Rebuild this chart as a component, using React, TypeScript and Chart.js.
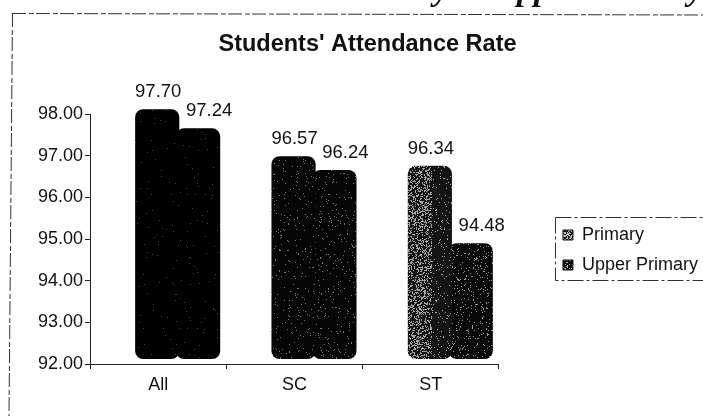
import React, { useEffect, useRef } from "react";
import { Chart, registerables } from "chart.js";

Chart.register(...registerables);

const categories = ["All", "SC", "ST"];
const primaryValues = [97.7, 96.57, 96.34];
const upperPrimaryValues = [97.24, 96.24, 94.48];
const yTicks = [92, 93, 94, 95, 96, 97, 98];
const chartTitle = "Students' Attendance Rate";
const seriesNames = ["Primary", "Upper Primary"];
const clippedHeader = "Primary & Upper Primary";

// Scanned-print texture: a speckle whose density is allowed to vary across x.
function speckle(base: number, light: number, density: (x: number) => number, seed: number) {
  const w = 703;
  const h = 416;
  const c = document.createElement("canvas");
  c.width = w;
  c.height = h;
  const g = c.getContext("2d")!;
  const img = g.createImageData(w, h);
  let s = seed;
  for (let y = 0; y < h; y++) {
    for (let x = 0; x < w; x++) {
      s = (s * 1103515245 + 12345) & 0x7fffffff;
      const v = ((s >> 16) & 255) / 255 < density(x) ? light : base;
      const i = (y * w + x) * 4;
      img.data[i] = v;
      img.data[i + 1] = v;
      img.data[i + 2] = v;
      img.data[i + 3] = 255;
    }
  }
  g.putImageData(img, 0, 0);
  return g.createPattern(c, "repeat")!;
}

const shiftPlugin = {
  id: "shift3d",
  afterDatasetsUpdate(chart: any) {
    chart.data.datasets.forEach((_: any, i: number) => {
      chart.getDatasetMeta(i).data.forEach((el: any) => {
        el.x += 19.5;
      });
    });
  },
};

const legendPlugin = {
  id: "legendPlace",
  beforeLayout(chart: any) {
    const l = chart.legend;
    if (!l.__wide) {
      const update = l.update;
      l.update = function (_w: number, h: number, m: any) {
        update.call(this, 400, h, m);
      };
      l.__wide = true;
    }
  },
  afterLayout(chart: any) {
    const l = chart.legend;
    l.top += 84;
    l.left += 5;
    l.right += 5;
    const t = chart.titleBlock;
    t.left += 16;
    t.right += 16;
  },
};

const labelPlugin = {
  id: "valueLabels",
  afterDatasetsDraw(chart: any) {
    const g = chart.ctx;
    g.save();
    g.font = '18.5px "Liberation Sans"';
    g.fillStyle = "#111";
    g.textAlign = "center";
    g.textBaseline = "middle";
    chart.data.datasets.forEach((ds: any, i: number) => {
      chart.getDatasetMeta(i).data.forEach((el: any, j: number) => {
        const dx = i === 0 ? 1 : 11;
        g.fillText(Number(ds.data[j]).toFixed(2), el.x + dx, el.y - 17);
      });
    });
    g.restore();
  },
};

const framePlugin = {
  id: "frame",
  beforeDraw(chart: any) {
    const g = chart.ctx;
    g.save();
    g.strokeStyle = "#333";
    g.lineWidth = 1;
    g.setLineDash([14, 3, 5, 2]);
    g.beginPath();
    g.moveTo(12, 13.5);
    g.lineTo(703, 15);
    g.moveTo(12.5, 13);
    g.lineTo(9, 416);
    g.stroke();
    g.setLineDash([16, 3, 3, 3]);
    g.strokeRect(555.5, 217.5, 170, 63);
    g.restore();
    g.save();
    g.font = 'italic bold 34px "Liberation Serif"';
    g.fillStyle = "#111";
    g.textAlign = "right";
    g.textBaseline = "alphabetic";
    g.fillText(clippedHeader, 703, 0);
    g.restore();
  },
};

export default function App() {
  const ref = useRef<HTMLCanvasElement>(null);
  useEffect(() => {
    document.body.style.margin = "0";
    const sparse = () => 0.006;
    const pPrimary = [
      speckle(0, 70, sparse, 7),
      speckle(5, 120, () => 0.025, 11),
      speckle(20, 165, (x) => (x < 432 ? 0.32 : 0.05), 13),
    ];
    const pUpper = [
      speckle(0, 70, sparse, 17),
      speckle(5, 120, () => 0.035, 19),
      speckle(8, 150, () => 0.07, 23),
    ];
    const swatchA = speckle(20, 190, () => 0.4, 29);
    const swatchB = speckle(15, 170, () => 0.28, 31);
    const chart = new Chart(ref.current!, {
      type: "bar",
      data: {
        labels: categories,
        datasets: [
          { label: seriesNames[0], data: primaryValues, backgroundColor: pPrimary, yAxisID: "yBars", base: 91.7, clip: false } as any,
          { label: seriesNames[1], data: upperPrimaryValues, backgroundColor: pUpper, yAxisID: "yBars", base: 91.7, clip: false } as any,
        ],
      },
      options: {
        responsive: false,
        animation: false,
        layout: { padding: 0 },
        datasets: {
          bar: {
            categoryPercentage: 0.6,
            barPercentage: 1.08,
            borderRadius: 8,
            borderSkipped: false,
          },
        },
        scales: {
          x: {
            offset: true,
            afterFit(axis: any) {
              axis.height = 52;
            },
            grid: { drawOnChartArea: false, color: "#222", tickLength: 5, offset: true },
            border: { color: "#222", dash: [12, 2, 4, 2] },
            ticks: { color: "#111", font: { family: "Liberation Sans", size: 18 }, padding: 5 },
          },
          y: {
            position: "left",
            min: 92,
            max: 98,
            afterFit(axis: any) {
              axis.width = 90;
            },
            afterBuildTicks(axis: any) {
              axis.ticks = yTicks.map((value) => ({ value }));
            },
            grid: { drawOnChartArea: false, color: "#222", tickLength: 5 },
            border: { color: "#222", dash: [12, 2, 4, 2] },
            ticks: {
              color: "#111",
              font: { family: "Liberation Sans", size: 18 },
              padding: 2,
              callback: (v: any) => Number(v).toFixed(2),
            },
          },
          yBars: { display: false, min: 91.58, max: 97.58 },
          gap: {
            position: "right",
            afterFit(axis: any) {
              axis.width = 47;
            },
            grid: { display: false },
            border: { display: false },
            ticks: { display: false },
          },
        },
        plugins: {
          title: {
            display: true,
            text: chartTitle,
            color: "#111",
            font: { family: "Liberation Sans", size: 23.5, weight: "bold" },
            padding: { top: 30, bottom: 56 },
            align: "center",
          },
          legend: {
            position: "right",
            labels: {
              color: "#111",
              font: { family: "Liberation Sans", size: 18 },
              boxWidth: 10,
              boxHeight: 10,
              padding: 12,
              generateLabels(c: any) {
                return Chart.defaults.plugins.legend.labels.generateLabels(c).map((item: any, i: number) => ({
                  ...item,
                  fillStyle: i === 0 ? swatchA : swatchB,
                  strokeStyle: "#111",
                  lineWidth: 1,
                }));
              },
            },
          },
          tooltip: { enabled: false },
        },
      } as any,
      plugins: [shiftPlugin, legendPlugin, framePlugin, labelPlugin],
    });
    return () => chart.destroy();
  }, []);
  return <canvas ref={ref} width={703} height={416} style={{ display: "block" }} />;
}
